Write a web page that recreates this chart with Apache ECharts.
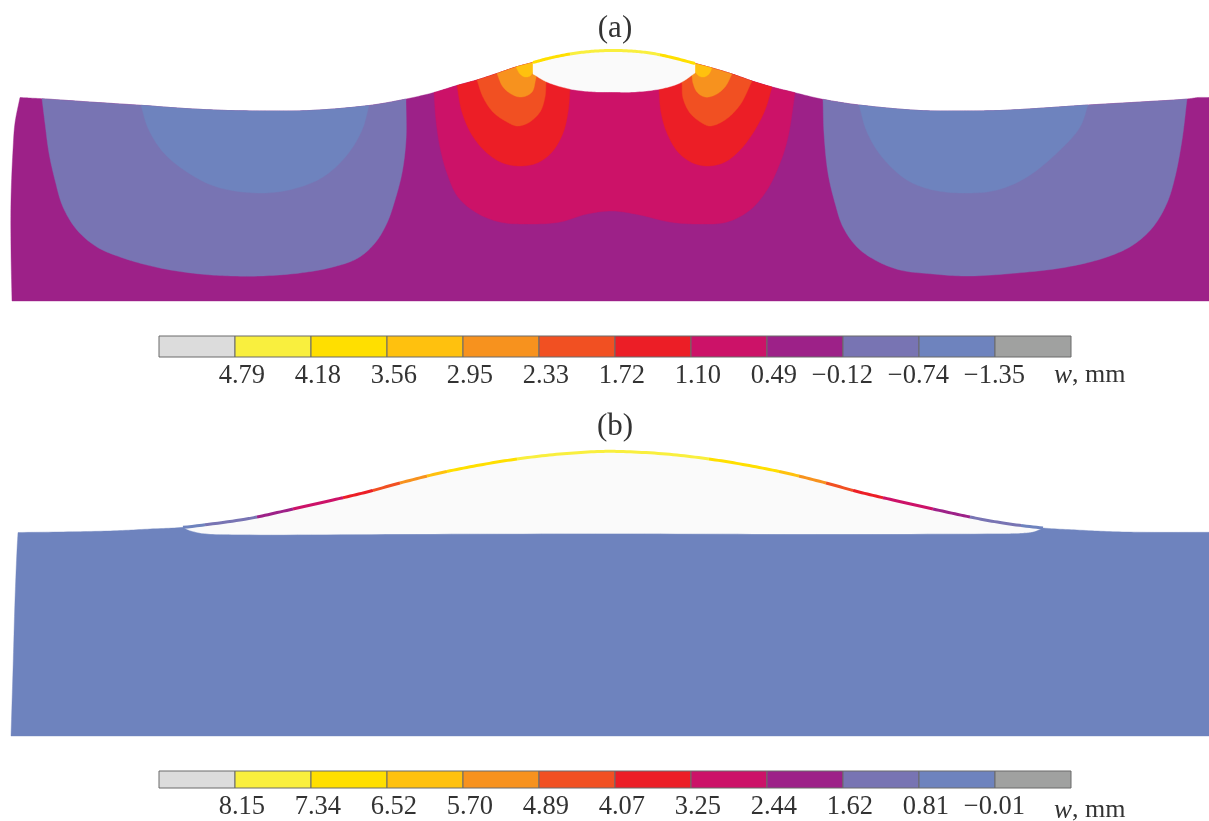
<!DOCTYPE html>
<html><head><meta charset="utf-8">
<style>html,body{margin:0;padding:0;background:#fff}#c{width:1209px;height:821px}</style>
<script src="https://cdn.jsdelivr.net/npm/echarts@6/dist/echarts.min.js"></script>
</head><body><div id="c"></div>
<script>
// ---------- colour-bar data ----------
const cellNames = ['over','b1','b2','b3','b4','b5','b6','b7','b8','b9','b10','under'];
const ticksA = ['4.79','4.18','3.56','2.95','2.33','1.72','1.10','0.49','\u22120.12','\u22120.74','\u22121.35'];
const ticksB = ['8.15','7.34','6.52','5.70','4.89','4.07','3.25','2.44','1.62','0.81','\u22120.01'];
const palette = ['#dcdcdc','#f9ef3e','#ffdf00','#ffc10e','#f7921e','#f15022','#ec1e26','#cc1268','#9d2188','#7874b3','#6e83be','#a0a1a0'];
const holeColor = '#fafafa';

// ---------- panel (a): outlines ----------
const surfaceA = [[20,97.5],[42,98.7],[90,102],[141,105.3],[185,108.5],[228,110.5],[270,111],[310,110.5],[369,105.5],[406,99],[434,92.5],[457,85.5],[477,80],[497,73.5],[516,67],[533,62.5],[550,58],[570,54],[590,51.5],[610,50.5],[630,51],[650,53],[670,57],[695,63.5],[712,68],[732,74],[752,81],[772,87],[795,92.7],[823,99.3],[859,105],[920,110.5],[960,111],[1000,110.5],[1044,108],[1088,105],[1140,102],[1187,99],[1198,97.5],[1209,97.5]];
const leftEdgeA = [[12,301],[11,250],[11,200],[13,150],[15,123],[20,97.5]];
const holeA = [[533,74],[547,82],[570,89],[593,91.7],[613,92],[633,92],[660,89],[680,83],[695,73]];
const blue9LeftA = [[42,98.7],[45,123],[49,153],[55,180],[63,207],[77,230],[97,247],[123,258],[160,268],[200,274],[233,276],[260,276],[300,273],[333,267],[358,258],[375,243],[387,223],[395,200],[402,173],[406,140],[406,99]];
const blue10LeftA = [[141,105.3],[148,128],[163,152],[187,172],[217,187],[260,193],[293,189],[323,177],[347,155],[362,130],[369,105.5]];
const blue9RightA = [[823,99.3],[824,133],[828,173],[835,203],[843,227],[857,247],[875,260],[900,270],[933,274],[967,276],[1017,273],[1067,267],[1107,257],[1133,245],[1153,227],[1167,203],[1175,177],[1182,140],[1187,99]];
const blue10RightA = [[859,105],[867,132],[882,157],[907,180],[933,190],[967,193],[997,190],[1027,177],[1060,150],[1080,127],[1088,105]];
const magentaA = [[434,92.5],[436,120],[440,147],[447,173],[458,197],[477,213],[500,222],[530,224],[560,222],[587,214],[613,211],[640,215],[670,222],[700,224],[727,222],[750,210],[767,190],[780,163],[788,137],[795,92.7]];
const redLeftA = [[457,85.5],[462,112],[472,135],[487,153],[503,163],[520,166],[537,163],[552,152],[563,133],[568,112],[570,89]];
const redRightA = [[659,89],[661,112],[667,133],[678,152],[693,163],[708,166],[725,162],[740,150],[753,133],[765,110],[772,87]];
const orangeRedLeftA = [[477,80],[483,97],[493,112],[507,122],[517,126],[528,123],[540,112],[545,97],[546,83]];
const orangeRedRightA = [[682,83],[683,98],[690,113],[702,123],[710,126],[725,120],[740,105],[752,81]];
const orangeLeftA = [[497,73.5],[503,87],[513,95],[522,97],[532,92],[536,78]];
const orangeRightA = [[692,76],[693,83],[697,92],[705,97],[715,95],[725,87],[732,74]];
const goldLeftA = [[516,67],[520,74],[525,77],[530,76],[533,72]];
const goldRightA = [[695,72],[699,76],[704,77],[709,74],[712,68]];
const lineBandsA = [[533,570,2],[570,660,1],[660,695,2]];

// ---------- panel (b) ----------
const surfaceB = [[18,532.5],[77,531.7],[117,530.7],[150,529],[183,527.3],[240,520],[257,517],[293,509],[333,500],[367,492],[400,483],[440,473],[480,465],[517,459],[560,454],[600,451.5],[620,451.5],[666,454],[709,459],[746,465],[786,473],[826,483],[859,492],[893,500],[933,509],[970,517],[1003,523],[1043,528],[1077,530],[1113,531.7],[1150,532.3],[1209,532.3]];
const leftEdgeB = [[11,736],[13,670],[15,600],[17,550],[18,532.5]];
const holeB = [[183,527.3],[190,530.5],[203,533.3],[240,534.5],[400,534],[613,533.5],[800,534],[997,533.5],[1022,533],[1033,531.7],[1043,528]];
const lineBandsB = [[183,205,10],[205,257,9],[257,293,8],[293,343,7],[343,373,6],[373,400,5],[400,427,4],[427,447,3],[447,517,2],[517,709,1],[709,779,2],[779,799,3],[799,826,4],[826,853,5],[853,883,6],[883,933,7],[933,970,8],[970,1021,9],[1021,1043,10]];

// ---------- helpers ----------
function spline(pts){ // centripetal Catmull-Rom rounding of a read outline
  const out=[],A=0.5,dist=(a,b)=>Math.max(Math.pow(Math.hypot(a[0]-b[0],a[1]-b[1]),A),1e-3);
  for(let i=0;i<pts.length-1;i++){
    const p1=pts[i],p2=pts[i+1];
    const p0=i>0?pts[i-1]:[2*p1[0]-p2[0],2*p1[1]-p2[1]];
    const p3=i+2<pts.length?pts[i+2]:[2*p2[0]-p1[0],2*p2[1]-p1[1]];
    const t1=dist(p0,p1),t2=t1+dist(p1,p2),t3=t2+dist(p2,p3);
    for(let k=0;k<12;k++){
      const t=t1+(t2-t1)*k/12,L=(a,b,ta,tb)=>[0,1].map(d=>((tb-t)*a[d]+(t-ta)*b[d])/(tb-ta));
      const A1=L(p0,p1,0,t1),A2=L(p1,p2,t1,t2),A3=L(p2,p3,t2,t3);
      out.push(L(L(A1,A2,0,t2),L(A2,A3,t1,t3),t1,t2));
    }
  }
  out.push(pts[pts.length-1]);
  return out;
}
function yAt(s,x){
  for(let i=0;i<s.length-1;i++){ if(x>=s[i][0]&&x<=s[i+1][0]){const r=(x-s[i][0])/((s[i+1][0]-s[i][0])||1);return s[i][1]+r*(s[i+1][1]-s[i][1]);} }
  return s[s.length-1][1];
}
function slice(s,x1,x2){ return [[x1,yAt(s,x1)]].concat(s.filter(p=>p[0]>x1&&p[0]<x2),[[x2,yAt(s,x2)]]); }
const smoothA = spline(surfaceA), smoothB = spline(surfaceB);
function under(s,contour,c){ // band = contour below + surface above
  const e=spline(contour);
  return {pts:e.concat(slice(s,e[0][0],e[e.length-1][0]).reverse()),color:palette[c]};
}
const polys = [
  {pts:smoothA.concat([[1209,301]],spline(leftEdgeA)),color:palette[8]},
  under(smoothA,blue9LeftA,9), under(smoothA,blue10LeftA,10),
  under(smoothA,blue9RightA,9), under(smoothA,blue10RightA,10),
  under(smoothA,magentaA,7),
  under(smoothA,redLeftA,6), under(smoothA,redRightA,6),
  under(smoothA,orangeRedLeftA,5), under(smoothA,orangeRedRightA,5),
  under(smoothA,orangeLeftA,4), under(smoothA,orangeRightA,4),
  under(smoothA,goldLeftA,3), under(smoothA,goldRightA,3),
  {pts:spline(holeA).concat(slice(smoothA,533,695).reverse()),color:holeColor},
  {pts:smoothB.concat([[1209,736]],spline(leftEdgeB)),color:palette[10]},
  {pts:spline(holeB).concat(slice(smoothB,183,1043).reverse()),color:holeColor}
];
const lines = lineBandsA.map(b=>({pts:slice(smoothA,b[0],b[1]),color:palette[b[2]],w:3}))
  .concat(lineBandsB.map(b=>({pts:slice(smoothB,b[0],b[1]),color:palette[b[2]],w:3})));

function barGrid(top){return {left:159,width:912,top:top,height:21,containLabel:false};}
const labelShift = 30/76;
function barAxis(idx,ticks){
  return {gridIndex:idx,type:'value',min:0,max:12,
    axisLine:{show:false},axisTick:{show:false},splitLine:{show:false},
    axisLabel:{show:true,customValues:ticks.map((t,i)=>i+1+labelShift),
      formatter:v=>ticks[Math.round(v-labelShift)-1],
      align:'right',margin:6,color:'#333',fontFamily:'Liberation Serif',fontSize:26.5,hideOverlap:false}};
}
function barSeries(idx){
  return {type:'custom',xAxisIndex:idx,yAxisIndex:idx,silent:true,
    data:cellNames.map((n,i)=>[i,1]),
    renderItem:(p,api)=>{
      const i=api.value(0),a=api.coord([i,1]),b=api.coord([i+1,0]);
      return {type:'rect',shape:{x:a[0],y:a[1],width:b[0]-a[0],height:b[1]-a[1]},
        style:{fill:palette[i],stroke:'#6a6a6a',lineWidth:1}};
    }};
}
const unitTitle = top => ({text:'{i|w}{n|, mm}',left:1054,top:top,padding:0,textStyle:{rich:{
  i:{fontFamily:'Liberation Serif',fontStyle:'italic',fontWeight:'normal',fontSize:27,color:'#333'},
  n:{fontFamily:'Liberation Serif',fontWeight:'normal',fontSize:26,color:'#333'}}}});
const capTitle = (t,top)=>({text:t,left:615,top:top,padding:0,textAlign:'center',textStyle:{fontFamily:'Liberation Serif',fontWeight:'normal',fontSize:31,color:'#333'}});

const chart = echarts.init(document.getElementById('c'),null,{renderer:'canvas'});
chart.setOption({
  animation:false,backgroundColor:'#fff',
  title:[capTitle('(a)',13),capTitle('(b)',411),unitTitle(362),unitTitle(797)],
  grid:[{left:0,top:0,width:1209,height:821},barGrid(336),barGrid(771)],
  xAxis:[{type:'value',min:0,max:1209,show:false},barAxis(1,ticksA),barAxis(2,ticksB)],
  yAxis:[{type:'value',min:0,max:821,inverse:true,show:false},
    {gridIndex:1,type:'value',min:0,max:1,show:false},
    {gridIndex:2,type:'value',min:0,max:1,show:false}],
  series:[
    {type:'custom',silent:true,data:polys.map((p,i)=>[i]),clip:false,
      renderItem:(p,api)=>{const o=polys[api.value(0)];
        return {type:'polygon',shape:{points:o.pts.map(q=>api.coord(q))},style:{fill:o.color,stroke:o.color,lineWidth:0.4}};}},
    {type:'custom',silent:true,data:lines.map((p,i)=>[i]),clip:false,
      renderItem:(p,api)=>{const o=lines[api.value(0)];
        return {type:'polyline',shape:{points:o.pts.map(q=>api.coord(q))},style:{fill:null,stroke:o.color,lineWidth:o.w}};}},
    barSeries(1),barSeries(2)
  ]
});
</script></body></html>
